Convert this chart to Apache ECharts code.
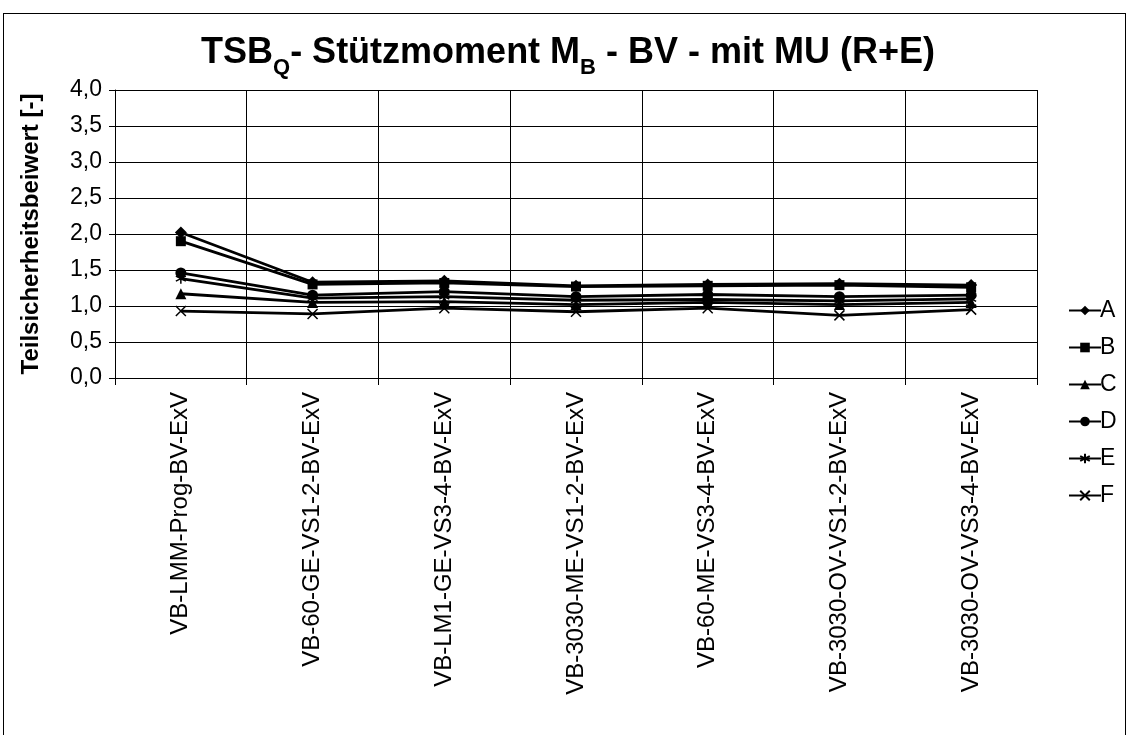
<!DOCTYPE html>
<html>
<head>
<meta charset="utf-8">
<script src="https://cdn.jsdelivr.net/npm/echarts@6/dist/echarts.min.js"></script>
<style>
  html, body { margin: 0; padding: 0; background: #fff; overflow: hidden; }
  #frame { position: absolute; left: 3px; top: 13px; width: 1121px; height: 740px; border: 1px solid #000; }
  #chart { position: absolute; left: 0; top: 0; width: 1128px; height: 735px; }
</style>
</head>
<body>
<div id="frame"></div>
<div id="chart"></div>
<script>
const categories = [
  "VB-LMM-Prog-BV-ExV",
  "VB-60-GE-VS1-2-BV-ExV",
  "VB-LM1-GE-VS3-4-BV-ExV",
  "VB-3030-ME-VS1-2-BV-ExV",
  "VB-60-ME-VS3-4-BV-ExV",
  "VB-3030-OV-VS1-2-BV-ExV",
  "VB-3030-OV-VS3-4-BV-ExV"
];
const seriesA = [2.02, 1.33, 1.35, 1.28, 1.30, 1.31, 1.29];
const seriesB = [1.90, 1.30, 1.32, 1.27, 1.28, 1.29, 1.26];
const seriesC = [1.17, 1.05, 1.06, 1.02, 1.05, 1.02, 1.05];
const seriesD = [1.46, 1.15, 1.20, 1.13, 1.16, 1.13, 1.15];
const seriesE = [1.38, 1.11, 1.13, 1.08, 1.09, 1.07, 1.10];
const seriesF = [0.93, 0.89, 0.97, 0.92, 0.97, 0.87, 0.95];
const yTicks = [0, 0.5, 1, 1.5, 2, 2.5, 3, 3.5, 4];

const chart = echarts.init(document.getElementById("chart"));

const asterisk = "path://M0,-10L0,10M-8.66,-5L8.66,5M-8.66,5L8.66,-5";
const cross = "path://M-8,-8L8,8M-8,8L8,-8";

function mk(name, data, symbol, size, stroke) {
  return {
    name: name,
    type: "line",
    data: data,
    symbol: symbol,
    symbolSize: size,
    showAllSymbol: true,
    lineStyle: { color: "#000", width: 2.8 },
    itemStyle: stroke
      ? { color: "#000", borderColor: "#000", borderWidth: 1.5 }
      : { color: "#000", borderWidth: 0 },
    emphasis: { disabled: true },
    animation: false
  };
}

const option = {
  animation: false,
  textStyle: { fontFamily: "Liberation Sans" },
  title: {
    text: "{n|TSB}{s|Q}{n|- Stützmoment M}{s|B}{n| - BV - mit MU (R+E)}",
    left: 563,
    textAlign: "center",
    top: 24,
    textStyle: {
      rich: {
        n: { fontSize: 36, fontWeight: "bold", color: "#000", fontFamily: "Liberation Sans", lineHeight: 42, verticalAlign: "bottom" },
        s: { fontSize: 22, fontWeight: "bold", color: "#000", fontFamily: "Liberation Sans", lineHeight: 42, verticalAlign: "bottom", padding: [0, 0, -8, 0] }
      }
    }
  },
  legend: {
    orient: "vertical",
    left: 1063,
    top: 294,
    itemGap: 14,
    itemWidth: 32,
    itemHeight: 12,
    textStyle: { fontSize: 23, color: "#000", fontFamily: "Liberation Sans", padding: [0, 0, 0, -6] },
    data: ["A", "B", "C", "D", "E", "F"]
  },
  grid: { left: 115, right: 91, top: 90, height: 288 },
  xAxis: {
    type: "category",
    data: categories,
    boundaryGap: true,
    axisLine: { lineStyle: { color: "#000", width: 1 } },
    axisTick: { show: true, length: 7, lineStyle: { color: "#000" } },
    splitLine: { show: true, lineStyle: { color: "#000", width: 1 } },
    axisLabel: { rotate: 90, fontSize: 24, color: "#000", margin: 14, fontFamily: "Liberation Sans" }
  },
  yAxis: {
    type: "value",
    min: yTicks[0],
    max: yTicks[yTicks.length - 1],
    interval: 0.5,
    name: "Teilsicherheitsbeiwert [-]",
    nameLocation: "middle",
    nameGap: 72,
    nameTextStyle: { fontSize: 24, fontWeight: "bold", color: "#000", fontFamily: "Liberation Sans" },
    axisLine: { show: true, lineStyle: { color: "#000", width: 1 } },
    axisTick: { show: true, length: 6, lineStyle: { color: "#000" } },
    splitLine: { show: true, lineStyle: { color: "#000", width: 1 } },
    axisLabel: {
      fontSize: 23, color: "#000", margin: 13, fontFamily: "Liberation Sans",
      formatter: v => v.toFixed(1).replace(".", ",")
    }
  },
  series: [
    mk("A", seriesA, "diamond", 12, false),
    mk("B", seriesB, "rect", 10, false),
    mk("C", seriesC, "triangle", 11, false),
    mk("D", seriesD, "circle", 11, false),
    mk("E", seriesE, asterisk, 10, true),
    mk("F", seriesF, cross, 10, true)
  ]
};

chart.setOption(option);
</script>
</body>
</html>
